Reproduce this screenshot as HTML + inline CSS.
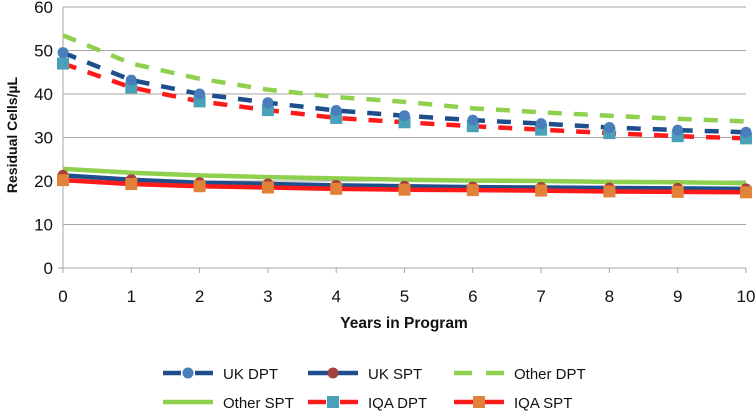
<!DOCTYPE html>
<html><head><meta charset="utf-8"><style>
body{margin:0;background:#fff;}
svg text{font-family:"Liberation Sans",sans-serif;}
</style></head><body>
<svg width="756" height="411" viewBox="0 0 756 411">
<g id="grid"></g><g id="axes"></g><g id="series"></g><g id="legend"></g>
<text x="404" y="328" text-anchor="middle" font-size="15.5" font-weight="bold" fill="#111">Years in Program</text>
<text transform="translate(17,135) rotate(-90)" text-anchor="middle" font-size="14" font-weight="bold" fill="#111">Residual Cells/µL</text>
</svg>
<script>
const years=[0,1,2,3,4,5,6,7,8,9,10];
const yTicks=[0,10,20,30,40,50,60];
const ukDpt=[49.5,43.2,40,38,36.2,35,34,33.2,32.3,31.7,31.2];
const ukSpt=[21.3,20.3,19.6,19.3,19,18.8,18.6,18.5,18.4,18.3,18.2];
const otherDpt=[53.5,47,43.5,41,39.3,38.2,36.7,35.8,35,34.3,33.7];
const otherSpt=[22.8,21.9,21.3,20.9,20.6,20.3,20.1,20,19.8,19.7,19.5];
const iqaDpt=[47,41.5,38.3,36.3,34.5,33.5,32.6,31.8,31,30.3,29.8];
const iqaSpt=[20.2,19.3,18.8,18.5,18.2,18,17.9,17.8,17.6,17.5,17.4];
const NS="http://www.w3.org/2000/svg";
const X0=63,X1=746,Y0=268,Y1=7;
const xs=v=>X0+(X1-X0)*v/10;
const ys=v=>Y0-(Y0-Y1)*v/60;
function mk(t,a,p){const e=document.createElementNS(NS,t);for(const k in a)e.setAttribute(k,a[k]);p.appendChild(e);return e;}
const grid=document.getElementById('grid'),axes=document.getElementById('axes'),ser=document.getElementById('series'),leg=document.getElementById('legend');
yTicks.forEach(t=>{
 if(t>0){const g=mk('line',{x1:X0,x2:X1,y1:ys(t),y2:ys(t),stroke:'#a6a6a6','stroke-width':1},grid);
 
 }
 const l=mk('text',{x:X0-10,y:ys(t)+6,'text-anchor':'end','font-size':17,fill:'#111'},axes);l.textContent=t;
 
 
});
const ya=mk('line',{x1:X0,x2:X0,y1:Y1,y2:Y0+5,stroke:'#a6a6a6','stroke-width':1},axes);


const xa=mk('line',{x1:X0-5,x2:X1,y1:Y0,y2:Y0,stroke:'#a6a6a6','stroke-width':1},axes);


years.forEach(v=>{
 mk('line',{x1:xs(v),x2:xs(v),y1:Y0,y2:Y0+5,stroke:'#a6a6a6'},axes);
 const l=mk('text',{x:xs(v),y:Y0+34,'text-anchor':'middle','font-size':17,fill:'#111'},axes);l.textContent=v;
 
 
});
const defs=[
 {name:'Other SPT',d:otherSpt,c:'#8fd14f',dash:null,m:null},
 {name:'UK SPT',d:ukSpt,c:'#1f4e8c',dash:null,m:'circle',mc:'#a5413d'},
 {name:'IQA SPT',d:iqaSpt,c:'#ff1a1a',dash:null,m:'square',mc:'#e0823a'},
 {name:'Other DPT',d:otherDpt,c:'#8fd14f',dash:'14 12',m:null},
 {name:'IQA DPT',d:iqaDpt,c:'#ff1a1a',dash:'14 12',m:'square',mc:'#4aa0b8'},
 {name:'UK DPT',d:ukDpt,c:'#1f4e8c',dash:'14 12',m:'circle',mc:'#4a7ebb'}
];
function marker(type,x,y,c,p){
 if(type==='circle')return mk('circle',{cx:x,cy:y,r:5.5,fill:c},p);
 return mk('rect',{x:x-6,y:y-6,width:12,height:12,fill:c},p);
}
defs.forEach(s=>{
 const slug=s.name.toLowerCase().replace(' ','-');
 const pts=s.d.map((v,i)=>xs(years[i])+','+ys(v)).join(' ');
 const a={points:pts,fill:'none',stroke:s.c,'stroke-width':4.5};if(s.dash)a['stroke-dasharray']=s.dash;
 const pl=mk('polyline',a,ser);
 
 
 if(s.m)s.d.forEach((v,i)=>{const m=marker(s.m,xs(years[i]),ys(v),s.mc,ser);
  
  });
});
const legItems=[
 {n:'UK DPT',x:163,y:373,c:'#1f4e8c',dash:true,m:'circle',mc:'#4a7ebb'},
 {n:'UK SPT',x:308,y:373,c:'#1f4e8c',dash:false,m:'circle',mc:'#a5413d'},
 {n:'Other DPT',x:454,y:373,c:'#8fd14f',dash:true,m:null},
 {n:'Other SPT',x:163,y:402,c:'#8fd14f',dash:false,m:null},
 {n:'IQA DPT',x:308,y:402,c:'#ff1a1a',dash:true,m:'square',mc:'#4aa0b8'},
 {n:'IQA SPT',x:454,y:402,c:'#ff1a1a',dash:false,m:'square',mc:'#e0823a'}
];
legItems.forEach(it=>{
 const g=mk('g',{},leg);
 
 
 const a={x1:it.x,x2:it.x+50,y1:it.y,y2:it.y,stroke:it.c,'stroke-width':4.5};
 if(it.dash)a['stroke-dasharray']='18 14';
 mk('line',a,g);
 if(it.m)marker(it.m,it.x+25,it.y,it.mc,g);
 const t=mk('text',{x:it.x+60,y:it.y+6,'font-size':15,fill:'#111'},g);t.textContent=it.n;
});
</script>
</body></html>
